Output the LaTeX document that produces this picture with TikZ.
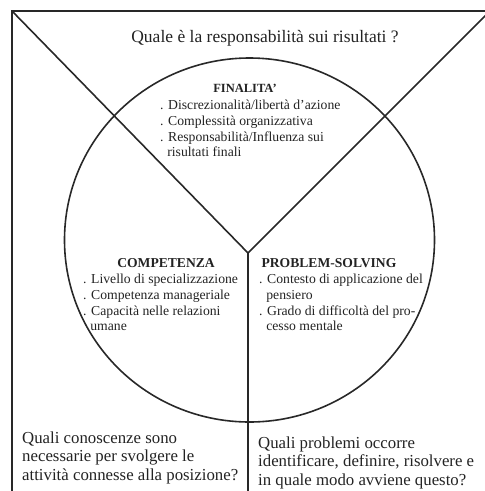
\documentclass[tikz,border=0pt]{standalone}
\usepackage{fontspec}
\setmainfont{Liberation Serif}
\usetikzlibrary{shapes.geometric}
\definecolor{linec}{RGB}{40,40,40}
\definecolor{txtc}{RGB}{35,35,35}
\newcommand{\indentdot}{\hspace*{0.52em}}
\begin{document}
\begin{tikzpicture}[x=1pt,y=-1pt,
  border/.style={line width=2pt,draw=linec},
  yline/.style={line width=1.6pt,draw=linec},
  circstyle/.style={ellipse,draw=linec,line width=1.6pt,inner sep=0pt,minimum width=370pt,minimum height=364pt},
  qtext/.style={font=\fontsize{16.8}{18.8}\selectfont,align=left,anchor=base west,inner sep=0pt,text=txtc},
  toptext/.style={font=\fontsize{17.5}{20}\selectfont,anchor=base,inner sep=0pt,text=txtc},
  listtext/.style={font=\fontsize{13.7}{15.8}\selectfont,align=left,anchor=base west,inner sep=0pt,text=txtc},
  headtext/.style={font=\bfseries\fontsize{13.6}{15.8}\selectfont,anchor=base,inner sep=0pt,text=txtc},
  ]
\useasboundingbox (0,0) rectangle (485,491);
\begin{scope}
\clip (0,0) rectangle (485,491);
\coordinate (tl) at (12,11);
\coordinate (J) at (248,253);
\coordinate (tr) at (490,11);
\coordinate (bot) at (248,500);
\coordinate (bl) at (12,500);
\node[circstyle] (circ) at (249.5,240) {};
\draw[border] (bl) -- (tl) -- (tr);
\draw[yline] (tl) -- (J) -- (tr);
\draw[yline] (J) -- (bot);
\end{scope}
% multi-line nodes: base anchor is the baseline of the last line
\node[toptext] (q1) at (265,42) {Quale è la responsabilità sui risultati ?};
\node[headtext,font=\bfseries\fontsize{12.5}{14}\selectfont] (fin) at (245,92) {FINALITA’};
\node[listtext] (finl) at (160,156.9) {. Discrezionalità/libertà d’azione\\. Complessità organizzativa\\. Responsabilità/Influenza sui\\\indentdot risultati finali};
\node[headtext] (comp) at (166,267) {COMPETENZA};
\node[listtext] (compl) at (83,330.9) {. Livello di specializzazione\\. Competenza manageriale\\. Capacità nelle relazioni\\\indentdot umane};
\node[headtext] (ps) at (329,267) {PROBLEM-SOLVING};
\node[listtext] (psl) at (259,330.9) {. Contesto di applicazione del\\\indentdot pensiero\\. Grado di difficoltà del pro-\\\indentdot cesso mentale};
\node[qtext] (q2) at (22,480.6) {Quali conoscenze sono\\necessarie per svolgere le\\attività connesse alla posizione?};
\node[qtext] (q3) at (258,485.6) {Quali problemi occorre\\identificare, definire, risolvere e\\in quale modo avviene questo?};
\end{tikzpicture}
\end{document}
